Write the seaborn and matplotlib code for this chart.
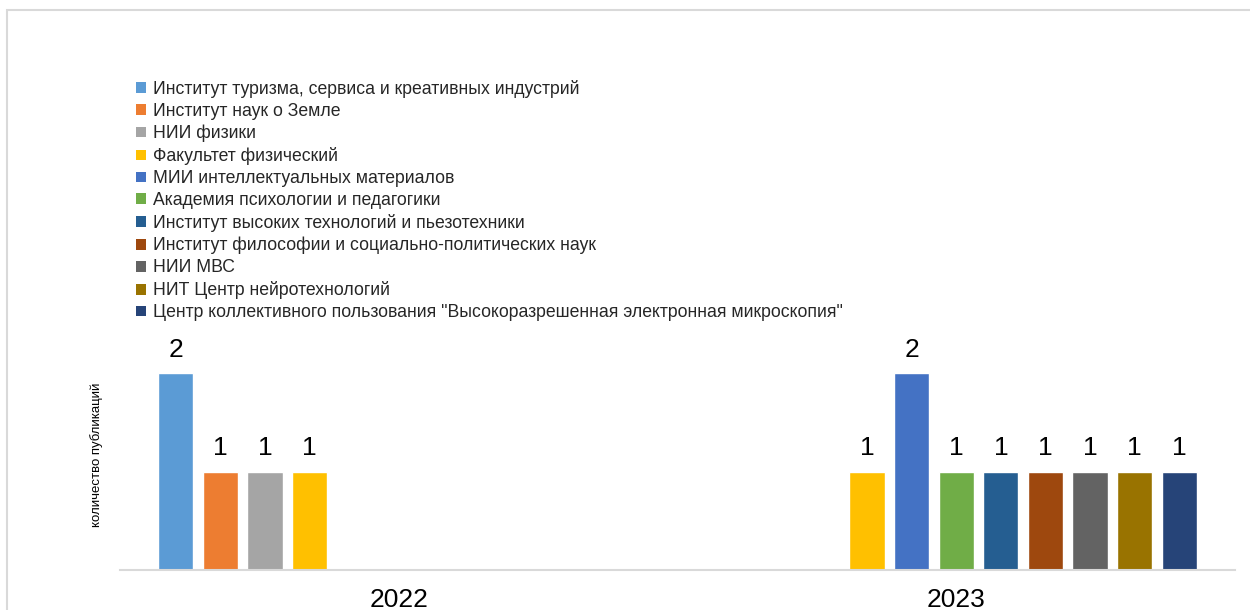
import matplotlib
matplotlib.use('Agg')
import matplotlib.pyplot as plt
import seaborn as sns
import pandas as pd
from matplotlib.patches import Rectangle, Patch

institutes = [
    "Институт туризма, сервиса и креативных индустрий",
    "Институт наук о Земле",
    "НИИ физики",
    "Факультет физический",
    "МИИ интеллектуальных материалов",
    "Академия психологии и педагогики",
    "Институт высоких технологий и пьезотехники",
    "Институт философии и социально-политических наук",
    "НИИ МВС",
    "НИТ Центр нейротехнологий",
    "Центр коллективного пользования \"Высокоразрешенная электронная микроскопия\"",
]
colors = ["#5B9BD5", "#ED7D31", "#A5A5A5", "#FFC000", "#4472C4", "#70AD47",
          "#255E91", "#9E480E", "#636363", "#997300", "#264478"]
years = ["2022", "2023"]
values_2022 = [2, 1, 1, 1, None, None, None, None, None, None, None]
values_2023 = [None, None, None, 1, 2, 1, 1, 1, 1, 1, 1]
y_label = "количество публикаций"

rows = []
for yr, vals in zip(years, [values_2022, values_2023]):
    for inst, v in zip(institutes, vals):
        if v is not None:
            rows.append({"year": yr, "institute": inst, "count": v})
df = pd.DataFrame(rows)

sns.set_theme(style="white")
plt.rcParams['font.family'] = ['Liberation Sans', 'DejaVu Sans']

fig = plt.figure(figsize=(12.5, 6.1), dpi=100)
ax = fig.add_axes([0.096, 0.0656, 0.892, 0.403])
sns.barplot(data=df, x="year", y="count", hue="institute", hue_order=institutes,
            order=years, palette=colors, width=0.88, gap=0.21, saturation=1,
            legend=False, ax=ax)

for c in ax.containers:
    ax.bar_label(c, fmt="%d", padding=8.5, fontsize=19, color="#000000")

ax.set_ylim(0, 2.5)
ax.set_xlim(-0.5, 1.5)
for s in ["top", "right", "left"]:
    ax.spines[s].set_visible(False)
ax.spines["bottom"].set_color("#d9d9d9")
ax.spines["bottom"].set_linewidth(1.5)
ax.set_yticks([])
ax.tick_params(axis="x", length=0, pad=13, labelsize=19, colors="#000000")
ax.set_xlabel("")
ax.set_ylabel(y_label, fontsize=9.5, color="#000000")
ax.yaxis.set_label_coords(-0.015, 0.467)

handles = [Patch(facecolor=c, edgecolor="none") for c in colors]
fig.legend(handles, institutes, loc="upper left", bbox_to_anchor=(0.1088, 0.869),
           frameon=False, fontsize=12.7, handlelength=0.57, handleheight=0.57,
           handletextpad=0.4, labelspacing=0.28, borderpad=0, borderaxespad=0)

fig.add_artist(Rectangle((7 / 1250, -0.5), 2, 1 - 10 / 610 + 0.5,
                         transform=fig.transFigure, fill=False,
                         edgecolor="#d9d9d9", linewidth=1.5))

fig.savefig("out.png", dpi=100, facecolor="white")
